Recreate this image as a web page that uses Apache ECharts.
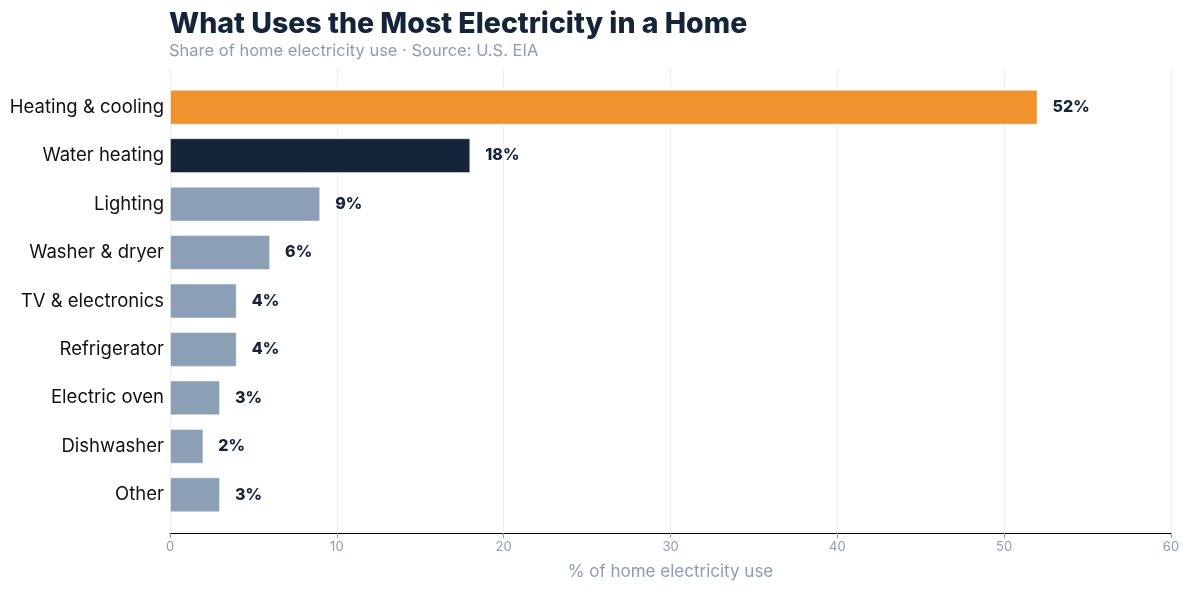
<!DOCTYPE html>
<html><head><meta charset="utf-8">
<script src="https://cdn.jsdelivr.net/npm/echarts@6/dist/echarts.min.js"></script>
<style>html,body{margin:0;padding:0;background:#fff}#c{width:1189px;height:589px}</style>
</head><body><div id="c"></div>
<script>
const categories = ["Heating & cooling","Water heating","Lighting","Washer & dryer","TV & electronics","Refrigerator","Electric oven","Dishwasher","Other"];
const values = [52,18,9,6,4,4,3,2,3];
const barColors = ["#F0932F","#14253A","#8CA0B5","#8CA0B5","#8CA0B5","#8CA0B5","#8CA0B5","#8CA0B5","#8CA0B5"];
const xTicks = {min:0,max:60,interval:10};
const F = "Inter, 'Noto Sans', sans-serif";
const chart = echarts.init(document.getElementById('c'));
chart.setOption({
  animation:false,
  title:{text:"What Uses the Most Electricity in a Home",subtext:"Share of home electricity use · Source: U.S. EIA",left:164,top:5,itemGap:4,
    textStyle:{fontFamily:F,fontSize:28.5,fontWeight:800,color:"#14253A"},
    subtextStyle:{fontFamily:F,fontSize:16.5,color:"#8C9DB0"}},
  grid:[
    {left:170,right:18,top:83,bottom:70},
    {left:170,right:18,top:68,bottom:56}
  ],
  xAxis:[
    {type:'value',gridIndex:0,min:xTicks.min,max:xTicks.max,interval:xTicks.interval,show:false,splitLine:{show:false}},
    {type:'value',gridIndex:1,min:xTicks.min,max:xTicks.max,interval:xTicks.interval,
    name:"% of home electricity use",nameLocation:'middle',nameGap:30,
    nameTextStyle:{fontFamily:F,fontSize:17,color:"#8C9DB0"},
    axisLine:{show:true,lineStyle:{color:"#000",width:1}},
    axisTick:{show:true,length:5,lineStyle:{color:"#8C9DB0"}},
    axisLabel:{fontFamily:F,fontSize:13,color:"#8C9DB0",margin:8},
    splitLine:{show:true,lineStyle:{color:"#EEEEEE"}}}
  ],
  yAxis:[
    {type:'category',gridIndex:0,data:categories,inverse:true,
    axisLine:{show:false},axisTick:{show:false},
    axisLabel:{fontFamily:F,fontSize:18.5,color:"#111",margin:6}},
    {type:'value',gridIndex:1,show:false,splitLine:{show:false}}
  ],
  series:[{type:'bar',xAxisIndex:0,yAxisIndex:0,barWidth:'72%',
    data:values.map((v,i)=>({value:v,itemStyle:{color:barColors[i]}})),
    itemStyle:{borderColor:'rgba(255,255,255,0.45)',borderWidth:1},
    label:{show:true,position:'right',distance:15,formatter:p=>p.value+'%',
      fontFamily:F,fontSize:16,fontWeight:800,color:"#14253A"}}]
});
</script></body></html>
